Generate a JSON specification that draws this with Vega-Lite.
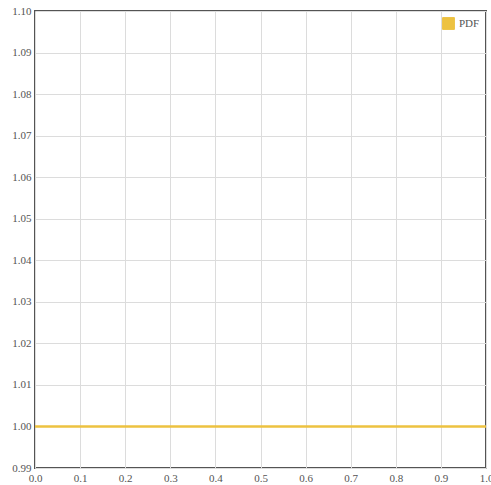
{
  "$schema": "https://vega.github.io/schema/vega-lite/v6.json",
  "width": 451,
  "height": 457,
  "autosize": {"type": "none"},
  "padding": {"left": 35, "top": 11, "right": 5, "bottom": 17},
  "background": "white",
  "config": {
    "font": "Liberation Serif",
    "view": {"stroke": "#545454", "strokeWidth": 2},
    "axis": {
      "labelFont": "Liberation Serif",
      "labelFontSize": 11,
      "labelColor": "#545454",
      "gridColor": "#dcdcdc",
      "gridWidth": 1,
      "domain": false,
      "ticks": false,
      "title": null
    }
  },
  "data": {
    "values": [
      {"x": 0.0, "y": 1.0, "series": "PDF"},
      {"x": 0.5, "y": 1.0, "series": "PDF"},
      {"x": 1.0, "y": 1.0, "series": "PDF"}
    ]
  },
  "mark": {"type": "line", "strokeWidth": 2.5, "clip": true},
  "encoding": {
    "x": {
      "field": "x",
      "type": "quantitative",
      "scale": {"domain": [0, 1], "nice": false, "zero": false},
      "axis": {
        "values": [0, 0.1, 0.2, 0.3, 0.4, 0.5, 0.6, 0.7, 0.8, 0.9, 1.0],
        "format": ".1f",
        "labelPadding": 4,
        "labelFlush": false
      }
    },
    "y": {
      "field": "y",
      "type": "quantitative",
      "scale": {"domain": [0.99, 1.10], "nice": false, "zero": false},
      "axis": {
        "values": [0.99, 1.0, 1.01, 1.02, 1.03, 1.04, 1.05, 1.06, 1.07, 1.08, 1.09, 1.1],
        "format": ".2f",
        "labelPadding": 4,
        "labelFlush": false
      }
    },
    "color": {
      "field": "series",
      "type": "nominal",
      "scale": {"range": ["#edc240"]},
      "legend": {
        "title": null,
        "orient": "top-right",
        "offset": 6,
        "symbolType": "square",
        "symbolSize": 140,
        "symbolFillColor": "#edc240",
        "symbolStrokeColor": "#cccccc",
        "symbolStrokeWidth": 1,
        "labelFont": "Liberation Serif",
        "labelFontSize": 11,
        "labelColor": "#545454",
        "fillColor": "rgba(255,255,255,0.85)"
      }
    }
  }
}
